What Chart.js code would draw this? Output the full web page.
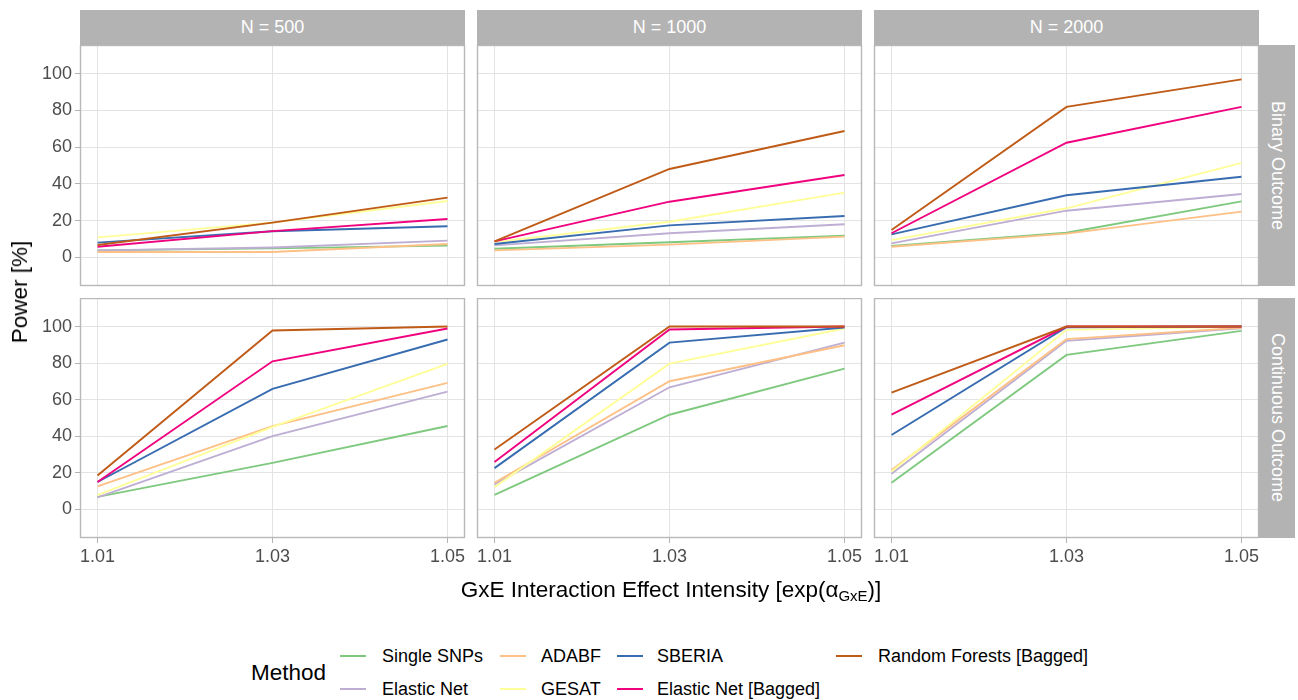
<!DOCTYPE html>
<html>
<head>
<meta charset="utf-8">
<script src="https://cdn.jsdelivr.net/npm/chart.js@4.4.1/dist/chart.umd.min.js"></script>
<style>
  html, body { margin: 0; padding: 0; background: #ffffff; }
  body { width: 1298px; height: 700px; position: relative; overflow: hidden;
         font-family: "Liberation Sans", Arial, Helvetica, sans-serif; }
  canvas { position: absolute; }
  .strip { position: absolute; background: #B3B3B3; color: #ffffff; font-size: 18px;
           display: flex; align-items: center; justify-content: center; white-space: nowrap; }
  .vstrip span { writing-mode: vertical-rl; }
  .ytitle { position: absolute; left: 20px; top: 292px; font-size: 22.5px; color: #000;
            transform: translate(-50%, -50%) rotate(-90deg); white-space: nowrap; }
  .xtitle { position: absolute; left: 671px; top: 590px; font-size: 22.5px; color: #000;
            transform: translate(-50%, -50%); white-space: nowrap; }
  .xtitle sub { font-size: 15px; vertical-align: -4px; }
  .legtitle { position: absolute; left: 251px; top: 673px; font-size: 22.5px; color: #000;
              transform: translateY(-50%); }
  .legkey { position: absolute; height: 2px; width: 26px; }
  .legtext { position: absolute; font-size: 18px; color: #000; transform: translateY(-50%); white-space: nowrap; }
</style>
</head>
<body>
<div id="root"></div>
<script>
// ---------------- data ----------------
const xValues = [1.01, 1.03, 1.05];
const sampleSizes = ['N = 500', 'N = 1000', 'N = 2000'];
const outcomes = ['Binary Outcome', 'Continuous Outcome'];
const methods = ['Single SNPs', 'Elastic Net', 'ADABF', 'GESAT', 'SBERIA',
                 'Elastic Net [Bagged]', 'Random Forests [Bagged]'];
const yTickValues = [0, 20, 40, 60, 80, 100];

// Power [%] at exp(alpha) = 1.01, 1.03, 1.05 ; one triple per N = 500, 1000, 2000
const singleSNPsBinary    = [[3.8, 4.9, 6.4],  [4.7, 8.2, 11.8],  [6.2, 13.4, 30.5]];
const elasticNetBinary    = [[3.8, 5.4, 9.1],  [6.5, 13.1, 18.0], [7.6, 25.4, 34.5]];
const adabfBinary         = [[2.9, 2.9, 7.3],  [3.8, 6.9, 11.3],  [5.8, 12.9, 24.9]];
const gesatBinary         = [[10.9, 18.9, 30.7], [8.3, 19.4, 35.2], [9.4, 26.7, 51.4]];
const sberiaBinary        = [[8.0, 14.2, 16.9], [7.3, 17.4, 22.5], [12.5, 33.8, 43.9]];
const enBaggedBinary      = [[5.8, 14.3, 20.9], [8.7, 30.3, 44.8], [13.1, 62.4, 81.9]];
const rfBaggedBinary      = [[6.7, 18.9, 32.5], [8.7, 48.1, 68.8], [14.9, 81.9, 96.9]];

const singleSNPsContinuous = [[6.9, 25.5, 45.6],  [8.0, 51.8, 77.0],  [14.6, 84.5, 97.6]];
const elasticNetContinuous = [[6.6, 40.1, 64.4],  [13.7, 66.8, 91.2], [19.5, 92.2, 99.1]];
const adabfContinuous      = [[12.6, 45.6, 69.2], [14.6, 70.1, 89.8], [21.5, 93.1, 99.3]];
const gesatContinuous      = [[7.8, 45.1, 79.6],  [12.2, 79.7, 98.9], [20.8, 98.2, 99.8]];
const sberiaContinuous     = [[15.0, 65.9, 92.9], [22.6, 91.2, 99.5], [40.7, 99.6, 100]];
const enBaggedContinuous   = [[15.0, 81.0, 98.9], [25.9, 98.4, 100],  [51.8, 100, 100]];
const rfBaggedContinuous   = [[18.6, 97.8, 100],  [32.8, 100, 100],   [63.9, 100, 100]];

const binarySeries = [singleSNPsBinary, elasticNetBinary, adabfBinary, gesatBinary,
                      sberiaBinary, enBaggedBinary, rfBaggedBinary];
const continuousSeries = [singleSNPsContinuous, elasticNetContinuous, adabfContinuous, gesatContinuous,
                          sberiaContinuous, enBaggedContinuous, rfBaggedContinuous];

// ---------------- style / layout ----------------
const methodColors = ['#7FC97F', '#BEAED4', '#FDC086', '#FFFF99', '#386CB0', '#F0027F', '#BF5B17'];
const PANEL_LEFT = [80, 477, 874];
const PANEL_W = 385;
const PANEL_TOP = [45, 298];
const PANEL_H = [241, 240];
const YW = 60, XH = 44, PR = 24;
const FONT = '"Liberation Sans", Arial, Helvetica, sans-serif';
const LINE_W = 1.9;

const root = document.getElementById('root');

const borderPlugin = {
  id: 'panelBorder',
  afterDatasetsDraw(chart) {
    const a = chart.chartArea, ctx = chart.ctx;
    ctx.save();
    ctx.strokeStyle = '#B8B8B8';
    ctx.lineWidth = 1.4;
    ctx.strokeRect(a.left + 0.5, a.top + 0.5, a.right - a.left - 1, a.bottom - a.top - 1);
    ctx.restore();
  }
};

function makePanel(row, col) {
  const series = row === 0 ? binarySeries : continuousSeries;
  const showY = col === 0, showX = row === 1;
  const cv = document.createElement('canvas');
  const w = YW + PANEL_W + PR, h = PANEL_H[row] + XH;
  cv.width = w; cv.height = h;
  cv.style.left = (PANEL_LEFT[col] - YW) + 'px';
  cv.style.top = PANEL_TOP[row] + 'px';
  cv.style.width = w + 'px'; cv.style.height = h + 'px';
  root.appendChild(cv);

  const datasets = methods.map((m, i) => ({
    label: m,
    data: xValues.map((x, k) => ({ x: x, y: series[i][col][k] })),
    borderColor: methodColors[i],
    backgroundColor: methodColors[i],
    borderWidth: LINE_W,
    pointRadius: 0,
    tension: 0,
    fill: false,
    order: methods.length - i
  }));

  new Chart(cv, {
    type: 'line',
    data: { datasets },
    plugins: [borderPlugin],
    options: {
      responsive: false,
      animation: false,
      devicePixelRatio: 1,
      layout: { padding: { left: 0, right: PR, top: 0, bottom: 0 } },
      plugins: { legend: { display: false }, tooltip: { enabled: false }, title: { display: false } },
      scales: {
        x: {
          type: 'linear', min: 1.008, max: 1.052,
          afterBuildTicks: s => { s.ticks = xValues.map(v => ({ value: v })); },
          afterFit: s => { s.height = XH; s.paddingLeft = 0; s.paddingRight = 0; },
          grid: { color: '#E3E3E3', lineWidth: 1, drawTicks: showX, tickLength: 5, tickColor: '#B3B3B3' },
          border: { display: false },
          ticks: { display: showX, color: '#4D4D4D', font: { family: FONT, size: 18 }, padding: 3,
                   maxRotation: 0, autoSkip: false, callback: v => Number(v).toFixed(2) }
        },
        y: {
          type: 'linear', min: -15.6, max: 115.6,
          afterBuildTicks: s => { s.ticks = yTickValues.map(v => ({ value: v })); },
          afterFit: s => { s.width = YW; s.paddingTop = 0; s.paddingBottom = 0; },
          grid: { color: '#E3E3E3', lineWidth: 1, drawTicks: showY, tickLength: 5, tickColor: '#B3B3B3' },
          border: { display: false },
          ticks: { display: showY, color: '#4D4D4D', font: { family: FONT, size: 18 }, padding: 3,
                   autoSkip: false, callback: v => String(v) }
        }
      }
    }
  });
}

for (let r = 0; r < 2; r++) for (let c = 0; c < 3; c++) makePanel(r, c);

// strips
sampleSizes.forEach((s, c) => {
  const d = document.createElement('div');
  d.className = 'strip';
  d.style.left = PANEL_LEFT[c] + 'px'; d.style.top = '10px';
  d.style.width = PANEL_W + 'px'; d.style.height = '35px';
  d.textContent = s;
  root.appendChild(d);
});
outcomes.forEach((o, r) => {
  const d = document.createElement('div');
  d.className = 'strip vstrip';
  d.style.left = (PANEL_LEFT[2] + PANEL_W) + 'px'; d.style.top = PANEL_TOP[r] + 'px';
  d.style.width = '36px'; d.style.height = PANEL_H[r] + 'px';
  const sp = document.createElement('span'); sp.textContent = o;
  d.appendChild(sp);
  root.appendChild(d);
});

// axis titles
const yt = document.createElement('div'); yt.className = 'ytitle'; yt.textContent = 'Power [%]'; root.appendChild(yt);
const xt = document.createElement('div'); xt.className = 'xtitle';
xt.innerHTML = 'GxE Interaction Effect Intensity [exp(\u03B1<sub>GxE</sub>)]';
root.appendChild(xt);

// legend
const lt = document.createElement('div'); lt.className = 'legtitle'; lt.textContent = 'Method'; root.appendChild(lt);
const legendKeyX = [340, 340, 500, 500, 617, 617, 836];
const legendTextX = [382, 382, 541, 541, 657, 657, 878];
const legendRowY = [656, 689, 656, 689, 656, 689, 656];
methods.forEach((m, i) => {
  const k = document.createElement('div'); k.className = 'legkey';
  k.style.left = legendKeyX[i] + 'px'; k.style.top = (legendRowY[i] - 1) + 'px';
  k.style.background = methodColors[i];
  root.appendChild(k);
  const t = document.createElement('div'); t.className = 'legtext';
  t.style.left = legendTextX[i] + 'px'; t.style.top = legendRowY[i] + 'px';
  t.textContent = m;
  root.appendChild(t);
});
</script>
</body>
</html>
